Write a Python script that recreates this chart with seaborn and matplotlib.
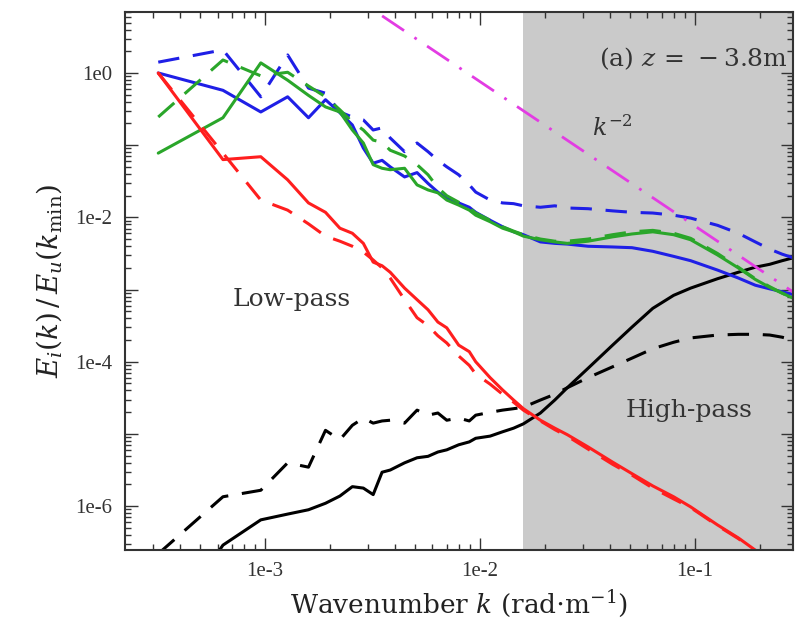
import numpy as np
import pandas as pd
import matplotlib
matplotlib.use("Agg")
import matplotlib.pyplot as plt
from matplotlib.ticker import FixedLocator, LogLocator, FuncFormatter, NullFormatter
import seaborn as sns

### Spectral data
# wavenumbers are harmonics of the lowest resolved one, k = n * k_min
k_min = 3.18e-4
n_grid = [1, 2, 3, 4, 5, 6, 7, 8, 9, 10, 11, 12, 14, 16, 18, 20, 22, 25, 28, 30,
          35, 40, 45, 50, 60, 70, 80, 100, 130, 160, 200, 250, 300, 400, 500,
          600, 700, 800, 900]

# log10 of E_i(k)/E_u(k_min)
red_solid = [0.00, -1.20, -1.16, -1.48, -1.80, -1.93, -2.15, -2.22, -2.36, -2.62,
             -2.67, -2.76, -2.98, -3.14, -3.28, -3.45, -3.53, -3.77, -3.86, -4.00,
             -4.22, -4.39, -4.53, -4.65, -4.81, -4.92, -5.01, -5.18, -5.39, -5.55,
             -5.72, -5.87, -6.01, -6.26, -6.44, -6.61, -6.79, -6.91, -7.02]
red_dashed = [0.00, -1.11, -1.76, -1.90, -2.09, -2.26, -2.33, -2.40, -2.48, -2.59,
              -2.70, -2.84, -3.14, -3.39, -3.50, -3.64, -3.74, -3.92, -4.05, -4.17,
              -4.31, -4.45, -4.56, -4.67, -4.82, -4.94, -5.03, -5.21, -5.42, -5.57,
              -5.75, -5.90, -6.02, -6.27, -6.45, -6.62, -6.75, -6.88, -6.99]
blue_solid = [0.00, -0.24, -0.54, -0.33, -0.62, -0.37, -0.55, -0.72, -1.04, -1.25,
              -1.21, -1.30, -1.44, -1.38, -1.53, -1.65, -1.74, -1.80, -1.86, -1.93,
              -2.04, -2.13, -2.20, -2.24, -2.34, -2.36, -2.37, -2.40, -2.41, -2.42,
              -2.47, -2.54, -2.60, -2.73, -2.84, -2.94, -2.99, -3.03, -3.07]
blue_dashed = [0.15, 0.32, -0.33, 0.25, -0.21, -0.28, -0.54, -0.61, -0.65, -0.79,
               -0.76, -0.90, -1.09, -0.97, -1.09, -1.21, -1.30, -1.41, -1.55, -1.65,
               -1.76, -1.80, -1.81, -1.84, -1.86, -1.84, -1.87, -1.88, -1.91, -1.93,
               -1.94, -1.97, -2.01, -2.11, -2.22, -2.34, -2.44, -2.51, -2.56]
green_solid = [-1.11, -0.62, 0.14, -0.10, -0.31, -0.47, -0.54, -0.79, -0.97, -1.27,
               -1.32, -1.34, -1.32, -1.55, -1.62, -1.66, -1.76, -1.83, -1.90, -1.97,
               -2.06, -2.15, -2.20, -2.26, -2.31, -2.34, -2.36, -2.33, -2.27, -2.23,
               -2.20, -2.24, -2.31, -2.52, -2.70, -2.86, -2.97, -3.05, -3.12]
green_dashed = [-0.61, 0.18, -0.04, 0.01, -0.18, -0.33, -0.51, -0.68, -0.79, -0.93,
                -0.96, -1.07, -1.15, -1.27, -1.41, -1.59, -1.70, -1.79, -1.87, -1.94,
                -2.04, -2.13, -2.19, -2.24, -2.30, -2.33, -2.33, -2.30, -2.24, -2.20,
                -2.18, -2.22, -2.29, -2.50, -2.69, -2.85, -2.96, -3.05, -3.12]
black_solid = [-7.85, -6.54, -6.19, -6.11, -6.05, -5.96, -5.86, -5.73, -5.75, -5.84,
               -5.53, -5.50, -5.40, -5.33, -5.31, -5.25, -5.22, -5.15, -5.11, -5.06,
               -5.03, -4.97, -4.92, -4.86, -4.71, -4.53, -4.36, -4.09, -3.77, -3.52,
               -3.26, -3.08, -2.98, -2.85, -2.76, -2.69, -2.65, -2.60, -2.56]
black_dashed = [-6.66, -5.87, -5.78, -5.40, -5.46, -4.95, -5.08, -4.88, -4.78, -4.85,
                -4.82, -4.81, -4.85, -4.67, -4.74, -4.71, -4.81, -4.78, -4.82, -4.74,
                -4.70, -4.67, -4.65, -4.63, -4.53, -4.45, -4.36, -4.22, -4.07, -3.95,
                -3.82, -3.73, -3.67, -3.63, -3.62, -3.62, -3.63, -3.66, -3.70]

# reference k^-2 slope
ref_k = [3.5e-3, 0.29]
ref_E = [6.18, 9.0e-4]

k_cut = 0.0158   # low-pass / high-pass split
xlim = (2.23e-4, 0.2857)
ylim = (2.47e-7, 7.0)
x_major = [1e-3, 1e-2, 1e-1]
y_major = [1e-6, 1e-5, 1e-4, 1e-3, 1e-2, 1e-1, 1e0]

###############################################################################
### Build long table
series = {
    ("black", "solid"): black_solid, ("black", "dashed"): black_dashed,
    ("blue", "solid"): blue_solid, ("blue", "dashed"): blue_dashed,
    ("green", "solid"): green_solid, ("green", "dashed"): green_dashed,
    ("red", "solid"): red_solid, ("red", "dashed"): red_dashed,
}
rows = []
for (comp, filt), vals in series.items():
    for n, v in zip(n_grid, vals):
        rows.append({"k": n * k_min, "E": 10.0 ** v, "comp": comp, "filt": filt})
df = pd.DataFrame(rows)

###############################################################################
### Plot
sns.set_theme(style="ticks")
plt.rcParams["font.family"] = ["Liberation Serif", "DejaVu Serif"]
plt.rcParams["mathtext.fontset"] = "dejavuserif"

fig = plt.figure(figsize=(7.97, 6.3), dpi=100)
ax = fig.add_axes([0.157, 0.127, 0.838, 0.854])
ax.set_xscale("log")
ax.set_yscale("log")
ax.set_xlim(*xlim)
ax.set_ylim(*ylim)

ax.axvspan(k_cut, xlim[1], color="#cacaca", lw=0, zorder=0)

palette = {"black": "black", "blue": "#1f1fe6", "green": "#2aa62a", "red": "#ff1e1e"}
sns.lineplot(data=df, x="k", y="E", hue="comp", style="filt",
             hue_order=["black", "blue", "green", "red"],
             style_order=["solid", "dashed"],
             palette=palette, dashes={"solid": "", "dashed": (7, 4.5)},
             estimator=None, sort=False, lw=2.2, legend=False, ax=ax)

ax.plot(ref_k, ref_E, color="#e33ce3", lw=2.0, dashes=(9.5, 4.5, 1, 4.5))

ann = dict(transform=ax.transAxes, ha="center", va="center", color="#333333",
           family="DejaVu Serif")
ax.text(0.992, 0.914, r"(a) $z\,=\,-3.8$m", fontsize=18,
        **{**ann, "ha": "right"})
ax.text(0.729, 0.784, r"$k^{-2}$", fontsize=17, **ann)
ax.text(0.25, 0.465, "Low-pass", fontsize=18, **ann)
ax.text(0.844, 0.26, "High-pass", fontsize=18, **ann)

# ticks
ax.xaxis.set_major_locator(FixedLocator(x_major))
ax.xaxis.set_minor_locator(LogLocator(base=10, subs=np.arange(2, 10), numticks=10))
ax.yaxis.set_major_locator(FixedLocator(y_major))
ax.yaxis.set_minor_locator(LogLocator(base=10, subs=np.arange(2, 10), numticks=20))
ax.xaxis.set_major_formatter(FuncFormatter(lambda v, p: "1e%d" % round(np.log10(v))))
ax.yaxis.set_major_formatter(FuncFormatter(
    lambda v, p: "1e%d" % round(np.log10(v)) if round(np.log10(v)) % 2 == 0 else ""))
ax.xaxis.set_minor_formatter(NullFormatter())
ax.yaxis.set_minor_formatter(NullFormatter())
ax.tick_params(which="both", direction="in", top=True, right=True,
               labelsize=15, colors="#333333", width=1.0)
ax.tick_params(which="major", length=9, pad=9)
ax.tick_params(which="minor", length=4.5)
for s in ax.spines.values():
    s.set_linewidth(1.5)
    s.set_color("#333333")

ax.set_xlabel(r"Wavenumber $k$ (rad$\cdot$m$^{-1}$)", fontsize=19,
              labelpad=5, color="#222222", family="DejaVu Serif")
ax.set_ylabel(r"$E_i(k)\,/\,E_u(k_{\rm min})$", fontsize=20,
              labelpad=8, color="#222222")

fig.savefig("out.png", dpi=100)
